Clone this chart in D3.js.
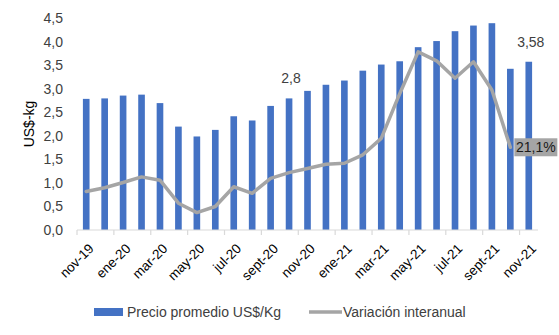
<!DOCTYPE html>
<html><head><meta charset="utf-8">
<script src="https://cdn.jsdelivr.net/npm/d3@7"></script>
<style>body{margin:0;background:#fff}svg{display:block}text{font-family:"Liberation Sans",Arial,sans-serif}</style>
</head><body><svg id="c" width="559" height="335"></svg>
<script>
const categories = ["nov-19","dic-19","ene-20","feb-20","mar-20","abr-20","may-20","jun-20","jul-20","ago-20","sept-20","oct-20","nov-20","dic-20","ene-21","feb-21","mar-21","abr-21","may-21","jun-21","jul-21","ago-21","sept-21","oct-21","nov-21"];
const precio = [2.79,2.80,2.86,2.88,2.70,2.20,1.99,2.13,2.42,2.33,2.64,2.80,2.96,3.09,3.18,3.39,3.52,3.59,3.89,4.02,4.23,4.35,4.40,3.43,3.58];
const variacion = [0.82,0.90,1.01,1.13,1.06,0.57,0.37,0.50,0.92,0.78,1.10,1.22,1.31,1.40,1.42,1.60,1.95,2.90,3.79,3.60,3.23,3.58,2.98,1.76,null];
const yTicks = [0,0.5,1,1.5,2,2.5,3,3.5,4,4.5];
const xTickLabels = ["nov-19","ene-20","mar-20","may-20","jul-20","sept-20","nov-20","ene-21","mar-21","may-21","jul-21","sept-21","nov-21"];
const barLabels = [{i:11,text:"2,8"},{i:24,text:"3,58"}];
const lineLabel = {i:23,text:"21,1%"};
const legendItems = ["Precio promedio US$/Kg","Variación interanual"];

const svg = d3.select("#c");
const x = d3.scaleBand().domain(categories).range([77,538]).padding(0);
const y = d3.scaleLinear().domain([0,4.5]).range([230,18.5]);
const bw = x.bandwidth()*0.36;
const fmt = v => d3.format(".1f")(v).replace(".",",");

// y tick labels
svg.append("g").selectAll("text").data(yTicks).join("text")
  .attr("x",63).attr("y",d=>y(d)).attr("dy","0.35em").attr("text-anchor","end")
  .attr("font-size",14).attr("fill","#404040").text(fmt);

// y title
svg.append("text").attr("transform","translate(34,124) rotate(-90)")
  .attr("text-anchor","middle").attr("font-size",14).attr("fill","#000").text("US$-kg");

// bars
svg.append("g").selectAll("rect").data(precio).join("rect")
  .attr("x",(d,i)=>x(categories[i])+x.bandwidth()/2-bw/2)
  .attr("width",bw).attr("y",d=>y(d)).attr("height",d=>y(0)-y(d)).attr("fill","#4472C4");

// x axis line
svg.append("line").attr("x1",77).attr("x2",538).attr("y1",y(0)).attr("y2",y(0))
  .attr("stroke","#d9d9d9").attr("stroke-width",1.2);
// ticks every 2 categories at left boundaries
svg.append("g").selectAll("line").data(categories.filter((d,i)=>i%2===0)).join("line")
  .attr("x1",d=>x(d)).attr("x2",d=>x(d)).attr("y1",y(0)).attr("y2",y(0)+5)
  .attr("stroke","#d9d9d9").attr("stroke-width",1.2);
// x labels
svg.append("g").selectAll("text").data(xTickLabels).join("text")
  .attr("transform",d=>`translate(${x(d)+x.bandwidth()/2+5},${y(0)+16}) rotate(-45)`)
  .attr("text-anchor","end").attr("dy","0.35em").attr("font-size",13.5).attr("fill","#000").text(d=>d);

// line
const line = d3.line().defined(d=>d!=null)
  .x((d,i)=>x(categories[i])+x.bandwidth()/2).y(d=>y(d));
svg.append("path").datum(variacion).attr("d",line).attr("fill","none")
  .attr("stroke","#A5A5A5").attr("stroke-width",3.5).attr("stroke-linejoin","round").attr("stroke-linecap","round");

// bar data labels
svg.append("g").selectAll("text").data(barLabels).join("text")
  .attr("x",d=>x(categories[d.i])+x.bandwidth()/2+2).attr("y",d=>y(precio[d.i])-15)
  .attr("text-anchor","middle").attr("font-size",14).attr("fill","#404040").text(d=>d.text);

// line label box
{
  const lx = x(categories[lineLabel.i])+x.bandwidth()/2+4;
  const ly = y(variacion[lineLabel.i]);
  svg.append("rect").attr("x",lx).attr("y",ly-9).attr("width",43).attr("height",18).attr("fill","#A5A5A5");
  svg.append("text").attr("x",lx+21.5).attr("y",ly).attr("dy","0.35em").attr("text-anchor","middle")
    .attr("font-size",14).attr("fill","#1a1a1a").text(lineLabel.text);
}

// legend
svg.append("rect").attr("x",94).attr("y",308).attr("width",29).attr("height",8).attr("fill","#4472C4");
svg.append("text").attr("x",127).attr("y",312).attr("dy","0.35em").attr("font-size",14).attr("fill","#404040").text(legendItems[0]);
svg.append("line").attr("x1",309).attr("x2",342).attr("y1",312).attr("y2",312).attr("stroke","#A5A5A5").attr("stroke-width",3.5);
svg.append("text").attr("x",343).attr("y",312).attr("dy","0.35em").attr("font-size",14).attr("fill","#404040").text(legendItems[1]);
</script></body></html>
